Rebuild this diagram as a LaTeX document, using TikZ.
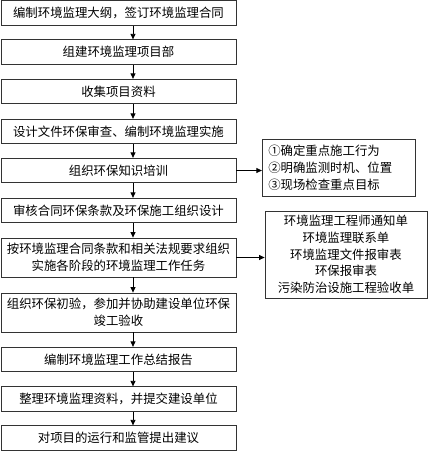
\documentclass[tikz,border=0pt]{standalone}
\usepackage{fontspec}
\setmainfont{Noto Sans CJK SC}
\usetikzlibrary{arrows.meta}

\begin{document}
\begin{tikzpicture}[
      x=1pt, y=-1pt,
      txt/.style={font=\fontsize{12.4}{16.7}\selectfont},
      stepbox/.style={txt, draw=black!80, line width=0.8pt, minimum width=235, minimum height=24.5, inner sep=0pt, align=center},
      tallbox/.style={stepbox, minimum height=39},
      notebox/.style={txt, draw=black!80, line width=0.8pt, inner xsep=6, inner ysep=0pt},
      arr/.style={-{Triangle[length=5.5pt, width=5pt]}, black, line width=0.8pt},
    ]
      \useasboundingbox (0,0) rectangle (428,451);
      % main column
      \node[stepbox] (s1)  at (118.5,13)    {编制环境监理大纲，签订环境监理合同};
      \node[stepbox] (s2)  at (118.5,52)    {组建环境监理项目部};
      \node[stepbox] (s3)  at (118.5,91.5)  {收集项目资料};
      \node[stepbox] (s4)  at (118.5,131.5) {设计文件环保审查、编制环境监理实施};
      \node[stepbox] (s5)  at (118.5,170.5) {组织环保知识培训};
      \node[stepbox] (s6)  at (118.5,210.5) {审核合同环保条款及环保施工组织设计};
      \node[tallbox] (s7)  at (118.5,257.5) {按环境监理合同条款和相关法规要求组织\\实施各阶段的环境监理工作任务};
      \node[tallbox] (s8)  at (118.5,312.5) {组织环保初验，参加并协助建设单位环保\\竣工验收};
      \node[stepbox] (s9)  at (118.5,359.5) {编制环境监理工作总结报告};
      \node[stepbox] (s10) at (118.5,399)   {整理环境监理资料，并提交建设单位};
      \node[stepbox] (s11) at (118.5,438)   {对项目的运行和监管提出建议};
      % side notes
      \node[notebox, text width=141, minimum height=57.5, align=left] (n1) at (338.75,167.75)
        {①确定重点施工行为\\②明确监测时机、位置\\③现场检查重点目标};
      \node[notebox, text width=150, minimum height=87, align=center] (n2) at (346,254.5)
        {环境监理工程师通知单\\环境监理联系单\\环境监理文件报审表\\环保报审表\\污染防治设施工程验收单};
      % arrows down the column
      \coordinate (ax) at (133,0);
      \foreach \a/\b in {s1/s2, s2/s3, s3/s4, s4/s5, s5/s6, s6/s7, s7/s8, s8/s9, s9/s10, s10/s11}
        \draw[arr] (\a.south -| ax) -- (\b.north -| ax);
      % arrows to the notes
      \draw[arr] (s5.east) -- (s5.east -| n1.west);
      \draw[arr] (s7.east) -- (s7.east -| n2.west);
\end{tikzpicture}
\end{document}
